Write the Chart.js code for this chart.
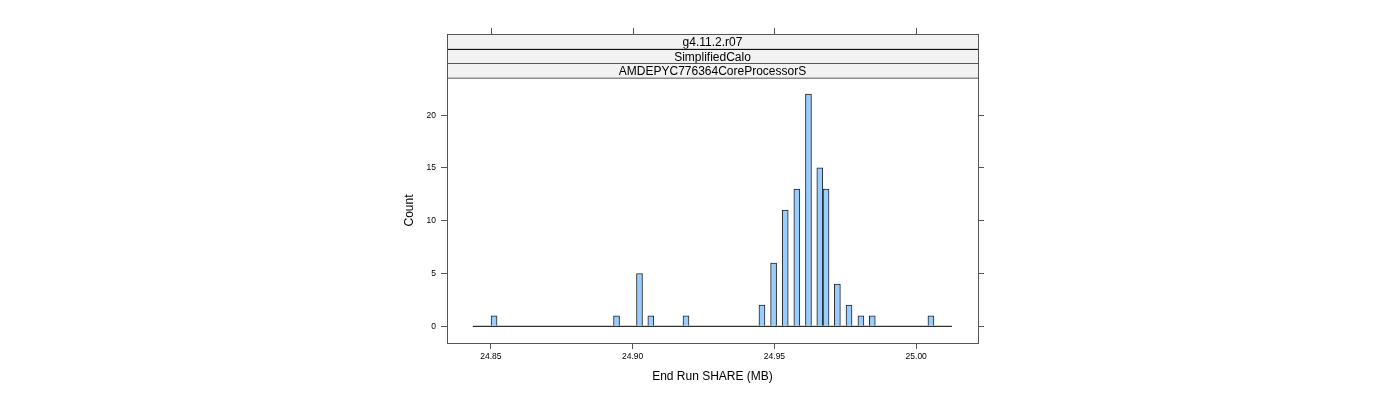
<!DOCTYPE html>
<html>
<head>
<meta charset="utf-8">
<script src="https://cdn.jsdelivr.net/npm/chart.js@4.4.1/dist/chart.umd.min.js"></script>
<style>
  html, body { margin: 0; padding: 0; background: #fff; }
  #wrap { width: 1400px; height: 400px; }
</style>
</head>
<body>
<div id="wrap"><canvas id="hist"></canvas></div>
<script>
// histogram bins (bin centre in MB) and counts
const binCentres = [24.8511, 24.8943, 24.9024, 24.9064, 24.9188, 24.9456, 24.9497, 24.9538,
  24.9579, 24.9620, 24.9660, 24.9682, 24.9722, 24.9763, 24.9805, 24.9845, 25.0052];
const counts = [1, 1, 5, 1, 1, 2, 6, 11, 13, 22, 15, 13, 4, 2, 1, 1, 1];
// range covered by the histogram (the baseline)
const binRange = [24.8436, 25.0126];
const xTicks = [24.85, 24.90, 24.95, 25.00];
const yTicks = [0, 5, 10, 15, 20];
const stripLabels = ['g4.11.2.r07', 'SimplifiedCalo', 'AMDEPYC776364CoreProcessorS'];

const FONT = "'Liberation Sans', Arial, sans-serif";
const axisCol = '#555';

// strips, top ticks and panel border, lattice style
const latticePlugin = {
  id: 'lattice',
  afterDraw(chart) {
    const ctx = chart.ctx;
    const a = chart.chartArea;
    const xs = chart.scales.x;
    const h = 14.67;
    const top0 = a.top - h * stripLabels.length;
    ctx.save();
    ctx.lineWidth = 1;
    stripLabels.forEach((lab, i) => {
      const y = top0 + i * h;
      ctx.fillStyle = '#f2f2f2';
      ctx.fillRect(a.left, y, a.right - a.left, h);
      ctx.strokeStyle = i === 1 ? '#111' : axisCol;
      ctx.strokeRect(a.left + 0.5, Math.round(y) + 0.5, a.right - a.left, h);
      ctx.fillStyle = '#000';
      ctx.font = '12px ' + FONT;
      ctx.textAlign = 'center';
      ctx.textBaseline = 'middle';
      ctx.fillText(lab, (a.left + a.right) / 2, y + h / 2 + 1.5);
    });
    // top axis ticks
    ctx.strokeStyle = axisCol;
    xTicks.forEach(v => {
      const px = Math.round(xs.getPixelForValue(v)) + 0.5;
      ctx.beginPath();
      ctx.moveTo(px, top0 - 6);
      ctx.lineTo(px, top0);
      ctx.stroke();
    });
    // panel border
    ctx.strokeStyle = axisCol;
    ctx.strokeRect(Math.round(a.left) + 0.5, Math.round(top0) + 0.5,
      Math.round(a.right - a.left), Math.round(a.bottom - top0));
    ctx.restore();
  }
};

const tickSet = arr => scale => { scale.ticks = arr.map(v => ({ value: v })); };

new Chart(document.getElementById('hist'), {
  type: 'bar',
  data: {
    datasets: [{
      type: 'line',
      data: binRange.map(v => ({ x: v, y: 0 })),
      borderColor: '#000',
      borderWidth: 1,
      pointRadius: 0,
      order: 2
    }, {
      data: binCentres.map((v, i) => ({ x: v, y: counts[i] })),
      backgroundColor: '#99ccff',
      borderColor: '#222',
      borderWidth: 1,
      barThickness: 6,
      order: 1
    }]
  },
  plugins: [latticePlugin],
  options: {
    responsive: true,
    maintainAspectRatio: false,
    animation: false,
    layout: { padding: { left: 402, right: 0, top: 78, bottom: 16 } },
    plugins: { legend: { display: false }, tooltip: { enabled: false } },
    scales: {
      x: {
        type: 'linear',
        offset: false,
        min: 24.8345,
        max: 25.0218,
        afterBuildTicks: tickSet(xTicks),
        afterFit: s => { s.height = 41; },
        grid: { offset: false, drawOnChartArea: false, tickLength: 6, color: axisCol },
        border: { display: false },
        ticks: {
          color: '#000', padding: 3,
          font: { family: FONT, size: 8.5 },
          callback: v => v.toFixed(2)
        },
        title: {
          display: true, text: 'End Run SHARE (MB)', color: '#000',
          font: { family: FONT, size: 12 }, padding: 0
        }
      },
      y: {
        min: -1.58,
        max: 23.52,
        afterBuildTicks: tickSet(yTicks),
        afterFit: s => { s.width = 45; },
        grid: { drawOnChartArea: false, tickLength: 6, color: axisCol },
        border: { display: false },
        ticks: { color: '#000', padding: 5, font: { family: FONT, size: 8.5 } },
        title: {
          display: true, text: 'Count', color: '#000',
          font: { family: FONT, size: 12 }, padding: 0
        }
      },
      y2: {
        position: 'right',
        min: -1.58,
        max: 23.52,
        afterBuildTicks: tickSet(yTicks),
        afterFit: s => { s.width = 422; },
        grid: { drawOnChartArea: false, tickLength: 6, color: axisCol },
        border: { display: false },
        ticks: { display: false }
      }
    }
  }
});
</script>
</body>
</html>
